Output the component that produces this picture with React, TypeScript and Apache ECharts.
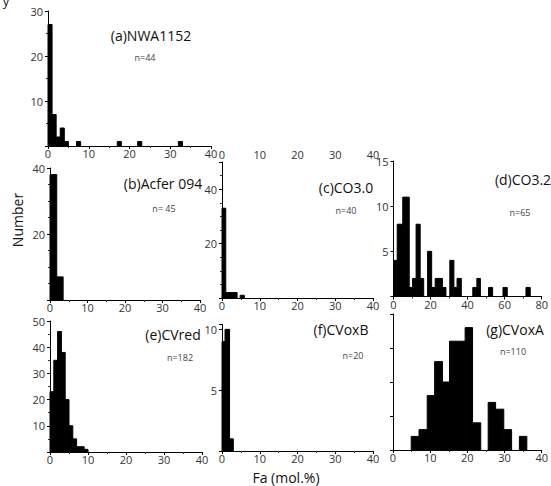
import React, { useEffect, useRef } from 'react';
import * as echarts from 'echarts';

// Histogram bins: [left edge Fa, right edge Fa, number of grains]
const binsA: [number, number, number][] = [
  [0, 1, 27], [1, 2, 7], [2, 3, 2], [3, 4, 4], [4, 5, 1],
  [7, 8, 1], [17, 18, 1], [22, 23, 1], [32, 33, 1],
];
const binsB: [number, number, number][] = [
  [0, 1.8, 38], [1.8, 3.5, 7],
];
const binsC: [number, number, number][] = [
  [0, 1, 33], [1, 2, 2], [2, 3, 2], [3, 4, 2], [4.8, 5.9, 1],
];
const binsD: [number, number, number][] = [
  [0, 2, 4], [2, 5, 8], [5, 8.5, 11], [8.5, 10.3, 1], [10.3, 12.2, 2],
  [12.2, 14.4, 8], [14.4, 16.3, 2], [18.4, 20.6, 5], [20.6, 22.5, 1],
  [22.5, 26.4, 2], [26.4, 28.3, 1], [30.4, 32.6, 4], [32.6, 34.3, 1],
  [34.3, 36.6, 2], [42.8, 45, 1], [45, 46.9, 2], [51.3, 53.5, 1],
  [59.1, 61.4, 1], [71.5, 73.8, 1],
];
const binsE: [number, number, number][] = [
  [0, 1, 23], [1, 2, 35], [2, 3, 46], [3, 4, 38], [4, 5, 20],
  [5, 6, 10], [6, 7, 5], [7, 8, 2], [8, 9, 2], [9, 10, 1],
];
const binsF: [number, number, number][] = [
  [0, 0.8, 9], [0.8, 2, 10], [2, 3, 1],
];
const binsG: [number, number, number][] = [
  [4.9, 7.0, 2], [7.0, 9.2, 3], [9.2, 11.2, 8], [11.2, 13.3, 13],
  [13.3, 15.2, 10], [15.2, 17.3, 16], [17.3, 19.4, 16], [19.4, 21.4, 18],
  [21.4, 23.6, 4], [25.6, 27.6, 7], [27.6, 29.8, 6], [29.8, 31.9, 3],
  [34, 36, 2],
];

const titles = ['(a)NWA1152', '(b)Acfer 094', '(c)CO3.0', '(d)CO3.2', '(e)CVred', '(f)CVoxB', '(g)CVoxA'];
const counts = ['n=44', 'n= 45', 'n=40', 'n=65', 'n=182', 'n=20', 'n=110'];
const xAxisTitle = 'Fa (mol.%)';
const yAxisTitle = 'Number';

const FONT = '"Open Sans", "DejaVu Sans", sans-serif';

interface Panel {
  bins: [number, number, number][];
  grid: { left: number; top: number; width: number; height: number };
  xMax: number; xInt: number;
  yMax: number; yInt: number; yLabels: boolean;
  title: [number, number]; n: [number, number];
  topAxis?: boolean;
}

const panels: Panel[] = [
  { bins: binsA, grid: { left: 48, top: 11, width: 163, height: 135 }, xMax: 40, xInt: 10, yMax: 30, yInt: 10, yLabels: true, title: [151, 35], n: [145, 57] },
  { bins: binsB, grid: { left: 50, top: 168, width: 150, height: 132 }, xMax: 40, xInt: 10, yMax: 40, yInt: 20, yLabels: true, title: [163, 183], n: [164, 208] },
  { bins: binsC, grid: { left: 222, top: 162, width: 151, height: 136 }, xMax: 40, xInt: 10, yMax: 50, yInt: 20, yLabels: true, title: [346, 187], n: [346, 210], topAxis: true },
  { bins: binsD, grid: { left: 393.5, top: 161, width: 151.5, height: 135.5 }, xMax: 80, xInt: 20, yMax: 15, yInt: 5, yLabels: true, title: [523, 179], n: [520, 212] },
  { bins: binsE, grid: { left: 50, top: 321, width: 152, height: 131 }, xMax: 40, xInt: 10, yMax: 50, yInt: 10, yLabels: true, title: [173, 334], n: [180, 357] },
  { bins: binsF, grid: { left: 222, top: 324.5, width: 151, height: 126.5 }, xMax: 40, xInt: 10, yMax: 10.4, yInt: 5, yLabels: true, title: [341, 329], n: [353, 355] },
  { bins: binsG, grid: { left: 393, top: 314, width: 150.5, height: 136 }, xMax: 40, xInt: 10, yMax: 20, yInt: 5, yLabels: false, title: [515, 329], n: [513, 351] },
];

export default function App() {
  const ref = useRef<HTMLDivElement>(null);
  useEffect(() => {
    if (!ref.current) return;
    const chart = echarts.init(ref.current, undefined, { renderer: 'svg' });
    const grids: any[] = [];
    const xAxes: any[] = [];
    const yAxes: any[] = [];
    const series: any[] = [];
    const graphics: any[] = [];
    panels.forEach((p, i) => {
      grids.push({ ...p.grid, containLabel: false });
      const xIndex = xAxes.length;
      xAxes.push({
        type: 'value', gridIndex: i, min: 0, max: p.xMax, interval: p.xInt,
        axisLine: { show: true, onZero: false, lineStyle: { color: '#000', width: 1 } },
        axisTick: { show: true, length: 3, lineStyle: { color: '#000' } },
        minorTick: { show: true, splitNumber: 2, length: 2, lineStyle: { color: '#333' } },
        splitLine: { show: false },
        axisLabel: { fontSize: 11, color: '#333', fontFamily: FONT, margin: 2 },
      });
      yAxes.push({
        type: 'value', gridIndex: i, min: 0, max: p.yMax, interval: p.yInt,
        axisLine: { show: true, onZero: false, lineStyle: { color: '#000', width: 1 } },
        axisTick: { show: true, length: 3, lineStyle: { color: '#000' } },
        minorTick: { show: p.yInt >= 10, splitNumber: p.yInt === 20 ? 4 : 2, length: 2, lineStyle: { color: '#333' } },
        splitLine: { show: false },
        axisLabel: {
          fontSize: 11, color: '#333', fontFamily: FONT, margin: 5,
          formatter: (v: number) => (!p.yLabels || v === 0 || Math.abs(v % p.yInt) > 1e-9) ? '' : String(v),
        },
      });
      series.push({
        type: 'custom', xAxisIndex: xIndex, yAxisIndex: i,
        data: p.bins,
        encode: { x: [0, 1], y: 2 },
        clip: false,
        renderItem: (_params: any, api: any) => {
          const a = api.coord([api.value(0), api.value(2)]);
          const b = api.coord([api.value(1), 0]);
          return {
            type: 'rect',
            shape: { x: a[0], y: a[1], width: b[0] - a[0], height: b[1] - a[1] },
            style: { fill: '#000', stroke: '#000', lineWidth: 1 },
          };
        },
      });
      if (p.topAxis) {
        xAxes.push({
          type: 'value', gridIndex: i, position: 'top', min: 0, max: p.xMax, interval: p.xInt,
          axisLine: { show: false }, axisTick: { show: false }, splitLine: { show: false },
          axisLabel: { fontSize: 11, color: '#333', fontFamily: FONT, margin: 2 },
        });
      }
      graphics.push({
        type: 'text', x: p.title[0], y: p.title[1],
        style: { text: titles[i], fontSize: 14, fill: '#111', fontFamily: FONT, textAlign: 'center', textVerticalAlign: 'middle' },
      });
      graphics.push({
        type: 'text', x: p.n[0], y: p.n[1],
        style: { text: counts[i], fontSize: 9, fill: '#444', fontFamily: FONT, textAlign: 'center', textVerticalAlign: 'middle' },
      });
    });
    graphics.push({
      type: 'text', x: 17, y: 220, rotation: Math.PI / 2,
      style: { text: yAxisTitle, fontSize: 14, fill: '#111', fontFamily: FONT, textAlign: 'center', textVerticalAlign: 'middle' },
    });
    graphics.push({
      type: 'text', x: 286, y: 477,
      style: { text: xAxisTitle, fontSize: 14, fill: '#111', fontFamily: FONT, textAlign: 'center', textVerticalAlign: 'middle' },
    });
    graphics.push({
      type: 'text', x: 6, y: 1,
      style: { text: 'y', fontSize: 12, fill: '#111', fontFamily: FONT, textAlign: 'center', textVerticalAlign: 'middle' },
    });
    chart.setOption({
      animation: false,
      backgroundColor: '#fff',
      grid: grids,
      xAxis: xAxes,
      yAxis: yAxes,
      series,
      graphic: graphics,
    });
    return () => chart.dispose();
  }, []);
  return <div ref={ref} style={{ position: 'fixed', left: 0, top: 0, width: 551, height: 486 }} />;
}
